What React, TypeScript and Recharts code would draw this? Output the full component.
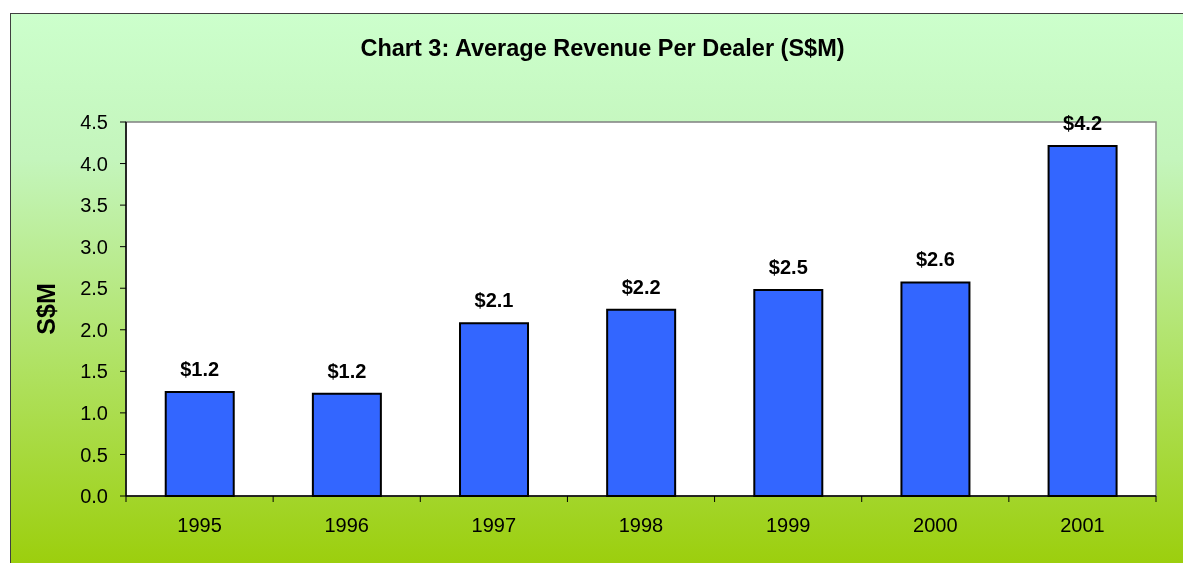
import React from 'react';
import { BarChart, Bar, XAxis, YAxis, ReferenceArea, LabelList } from 'recharts';

const years = ['1995', '1996', '1997', '1998', '1999', '2000', '2001'];
const revenue = [1.25, 1.23, 2.08, 2.24, 2.48, 2.57, 4.21];
const revenueLabels = ['$1.2', '$1.2', '$2.1', '$2.2', '$2.5', '$2.6', '$4.2'];
const yTicks = [0, 0.5, 1, 1.5, 2, 2.5, 3, 3.5, 4, 4.5];

const data = years.map((year, i) => ({ year, value: revenue[i], label: revenueLabels[i] }));

const FONT = '"Liberation Sans", Arial, sans-serif';
const PLOT_WIDTH = 1030;

const YearTick = (props: any) => {
  const { x, y, payload, index } = props;
  const step = PLOT_WIDTH / years.length;
  const axisY = y - 22;
  return (
    <g>
      <line x1={x - step / 2} x2={x - step / 2} y1={axisY} y2={axisY + 6} stroke="#000" />
      {index === years.length - 1 && (
        <line x1={x + step / 2} x2={x + step / 2} y1={axisY} y2={axisY + 6} stroke="#000" />
      )}
      <text x={x} y={y} dy="0.71em" textAnchor="middle" fontSize={20} fill="#000" fontFamily={FONT}>
        {payload.value}
      </text>
    </g>
  );
};

const App = () => {
  return (
    <div style={{ position: 'fixed', left: 0, top: 0, width: 1183, height: 563, overflow: 'hidden', fontFamily: FONT }}>
      <div
        style={{
          position: 'absolute',
          left: 10,
          top: 13,
          width: 1200,
          height: 580,
          border: '1.5px solid #404040',
          background: 'linear-gradient(to bottom, #CCFFCC 0%, #C4F5BC 25%, #99CC00 100%)',
        }}
      />
      <div
        style={{
          position: 'absolute',
          left: 0,
          top: 36,
          width: 1205,
          textAlign: 'center',
          fontSize: 23.5,
          lineHeight: '24px',
          fontWeight: 'bold',
          color: '#000',
        }}
      >
        Chart 3: Average Revenue Per Dealer (S$M)
      </div>
      <div style={{ position: 'absolute', left: 0, top: 0 }}>
        <BarChart
          width={1183}
          height={563}
          data={data}
          margin={{ top: 122, right: 27, bottom: 27, left: 46 }}
          barCategoryGap="27%"
        >
          <ReferenceArea y1={0} y2={4.5} fill="#ffffff" fillOpacity={1} stroke="#808080" strokeWidth={1.5} />
          <XAxis
            dataKey="year"
            height={40}
            axisLine={{ stroke: '#000', strokeWidth: 1.5 }}
            tickLine={false}
            tickSize={0}
            tickMargin={22}
            tick={<YearTick />}
            interval={0}
          />
          <YAxis
            width={80}
            domain={[0, 4.5]}
            ticks={yTicks}
            interval={0}
            tickFormatter={(v: number) => v.toFixed(1)}
            axisLine={{ stroke: '#000', strokeWidth: 1.5 }}
            tickLine={{ stroke: '#000' }}
            tickSize={6}
            tickMargin={12}
            tick={{ fill: '#000', fontSize: 20, fontFamily: FONT }}
            label={{
              value: 'S$M',
              angle: -90,
              position: 'insideLeft',
              offset: 0,
              style: { textAnchor: 'middle', fontSize: 25, fontWeight: 'bold', fill: '#000', fontFamily: FONT },
            }}
          />
          <Bar dataKey="value" fill="#3366FF" stroke="#000" strokeWidth={2} isAnimationActive={false}>
            <LabelList
              dataKey="label"
              position="top"
              offset={16}
              style={{ fontSize: 20, fontWeight: 'bold', fill: '#000', fontFamily: FONT }}
            />
          </Bar>
        </BarChart>
      </div>
    </div>
  );
};

export default App;
